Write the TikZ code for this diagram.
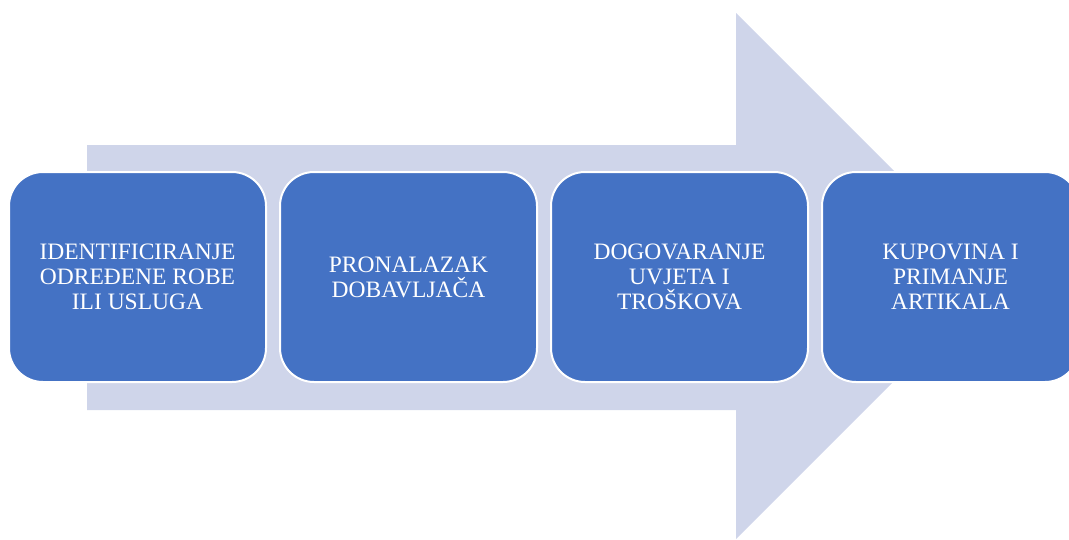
\documentclass[tikz,border=0pt]{standalone}
\usepackage{fontspec}
\setmainfont{Liberation Serif}
\definecolor{boxblue}{HTML}{4472C4}
\definecolor{arrowfill}{HTML}{CFD5EA}
\begin{document}
\begin{tikzpicture}[x=1pt,y=-1pt,
  stepbox/.style={draw=white,line width=2pt,fill=boxblue,rounded corners=34pt,
    minimum width=257pt,minimum height=210pt,inner sep=0pt,outer sep=0pt,
    text=white,align=center,font=\fontsize{23.5}{25}\selectfont}]
\useasboundingbox (0,0) rectangle (1069,539);
% big background arrow
\fill[arrowfill] (87,145) -- (736,145) -- (736,13) -- (999,276) -- (736,539)
  -- (736,410) -- (87,410) -- cycle;
\node[stepbox] (s1) at (137.5,277) {IDENTIFICIRANJE\\ODREĐENE ROBE\\ILI USLUGA};
\node[stepbox] (s2) at (408.5,277) {PRONALAZAK\\DOBAVLJAČA};
\node[stepbox] (s3) at (679.5,277) {DOGOVARANJE\\UVJETA I\\TROŠKOVA};
\node[stepbox] (s4) at (950.5,277) {KUPOVINA I\\PRIMANJE\\ARTIKALA};
\end{tikzpicture}
\end{document}
